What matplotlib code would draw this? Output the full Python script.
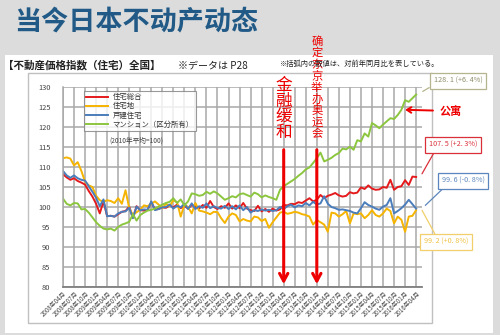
import matplotlib
matplotlib.use("Agg")
import matplotlib.pyplot as plt
import matplotlib.patches as patches
import numpy as np

plt.rcParams['font.family'] = ['Noto Sans CJK JP', 'DejaVu Sans']

# monthly index values, 2008年04月 .. 2016年04月 (one row per April-March year)
total = [
    108.2, 107.4, 106.8, 107.2, 106.5, 106.1, 105.6, 104.0, 102.6, 100.8, 98.4, 101.4,
    97.7, 97.8, 97.6, 98.2, 98.8, 99.0, 100.1, 97.3, 100.2, 99.2, 99.1, 99.3,
    101.2, 99.4, 99.5, 99.9, 99.8, 100.4, 99.9, 100.6, 99.7, 100.3, 99.6, 100.5,
    100.1, 99.6, 100.5, 99.8, 101.5, 100.0, 99.5, 100.2, 99.8, 100.9, 99.6, 100.4,
    99.7, 101.0, 99.6, 99.2, 99.0, 100.3, 98.9, 99.5, 98.8, 99.6, 99.1, 99.4,
    100.5, 100.4, 100.8, 100.7, 101.2, 101.0, 101.6, 102.2, 101.4, 101.8, 103.0, 102.2,
    102.8, 103.1, 103.5, 102.9, 102.6, 102.8, 103.7, 103.4, 103.6, 104.9, 104.5, 105.4,
    104.6, 104.3, 104.4, 105.0, 104.8, 106.8, 104.3, 105.0, 105.2, 106.7, 105.5, 107.6,
    107.5,
]
land = [
    112.2, 112.4, 112.1, 110.4, 111.2, 109.0, 106.3, 105.4, 105.0, 102.8, 101.7, 101.3,
    101.7, 101.5, 101.0, 102.2, 100.8, 104.2, 99.7, 98.0, 98.7, 99.3, 100.4, 100.2,
    100.8, 101.4, 100.6, 99.7, 100.8, 100.2, 101.7, 101.2, 97.6, 100.6, 100.0, 98.4,
    101.0, 99.1, 98.9, 98.6, 98.2, 98.8, 98.7, 97.2, 96.0, 97.6, 98.4, 98.0,
    96.4, 97.0, 96.6, 96.4, 97.6, 97.4, 96.5, 97.0, 94.8, 96.2, 97.4, 98.6,
    98.8, 98.3, 98.5, 98.8, 98.6, 98.2, 98.0, 97.6, 95.6, 96.7, 96.2, 95.6,
    93.8, 98.6, 98.4, 97.6, 98.2, 99.0, 95.9, 98.4, 98.2, 98.4, 97.2, 98.0,
    99.2, 98.0, 97.6, 98.4, 99.6, 99.0, 95.9, 97.6, 96.8, 93.8, 97.6, 97.8,
    99.2,
]
house = [
    109.0, 107.9, 107.3, 107.9, 107.2, 106.8, 106.6, 105.2, 103.8, 102.3, 100.2, 101.9,
    97.7, 97.8, 97.6, 98.4, 98.8, 98.9, 99.8, 97.2, 100.1, 99.2, 99.4, 99.3,
    101.4, 99.2, 99.5, 99.9, 100.0, 100.6, 99.6, 100.3, 99.9, 100.8, 99.5, 100.9,
    99.5, 100.2, 99.8, 100.9, 99.7, 100.2, 99.8, 99.6, 100.3, 99.5, 100.2, 99.4,
    100.4, 99.2, 100.0, 98.6, 99.2, 99.0, 99.4, 99.1, 99.3, 99.0, 99.2, 100.0,
    99.5, 100.2, 100.6, 99.9, 100.4, 100.2, 101.0, 100.4, 101.3, 100.6, 100.9, 102.7,
    100.8, 100.0, 99.7, 99.3, 99.4, 99.2, 99.0, 98.6, 98.4, 99.7, 101.2, 100.5,
    100.1, 99.6, 99.3, 100.1, 100.5, 102.2, 98.4, 99.0, 99.7, 100.6, 101.8, 100.7,
    99.6,
]
condo = [
    102.1, 100.8, 100.4, 101.0, 100.9, 99.4, 99.5, 98.6, 97.4, 96.2, 95.3, 94.6,
    94.4, 94.6, 94.1, 95.0, 95.6, 95.9, 96.3, 98.2, 96.6, 98.0, 98.6, 99.1,
    99.3, 99.6, 100.1, 100.6, 101.0, 101.3, 102.2, 101.0, 101.9, 100.4, 101.4, 103.4,
    103.2, 102.8, 103.0, 103.8, 103.3, 103.9, 103.4, 102.6, 101.8, 102.2, 102.7, 102.4,
    103.2, 103.4, 103.0, 102.6, 103.6, 103.2, 102.4, 102.9, 102.5, 102.2, 101.8, 104.3,
    105.2, 105.8, 106.4, 107.0, 107.8, 108.5, 109.4, 109.9, 111.0, 112.2, 113.6, 111.4,
    111.8, 112.3, 113.0, 113.5, 114.6, 114.4, 115.1, 114.3, 116.7, 116.4, 118.4, 117.6,
    121.0, 120.4, 119.7, 120.6, 121.4, 122.2, 122.0, 123.0, 124.3, 126.7, 126.3, 127.2,
    128.1,
]

series_names = ['住宅総合', '住宅地', '戸建住宅', 'マンション（区分所有）']
series_data = [total, land, house, condo]
series_colors = ['#e41a1c', '#f5b400', '#4a7dbb', '#8cc63f']
callout_texts = ['107. 5 (+2. 3%)', '99. 2 (+0. 8%)', '99. 6 (-0. 8%)', '128. 1 (+6. 4%)']
callout_edge = ['#d9303a', '#f2cf6a', '#5b86bd', '#b6b48e']
callout_font = ['#d9303a', '#f0c040', '#5b86bd', '#8f8d6a']

tick_pos = list(range(0, 97, 3))
tick_labels = ['%d年%02d月' % (2008 + (3 + m) // 12, (3 + m) % 12 + 1) for m in tick_pos]
months = np.arange(len(total))

W, H = 500, 335
fig = plt.figure(figsize=(W / 100, H / 100), dpi=100, facecolor='#dcdcdc')

def fx(px):
    return px / W

def fy(py):
    return 1 - py / H

# white slide panel and chart frame (behind the axes)
fig.patches.append(patches.Rectangle((fx(5), fy(333)), fx(488), 278 / H, transform=fig.transFigure,
                                     facecolor='white', edgecolor='none', zorder=-3))
fig.patches.append(patches.Rectangle((fx(28), fy(323)), fx(404), 250 / H, transform=fig.transFigure,
                                     facecolor='none', edgecolor='#c0c0c0', lw=1.0, zorder=-2))

fig.text(fx(14), fy(21), '当今日本不动产动态', fontsize=19.5, fontweight='bold', color='#215a86',
         va='center', ha='left', family=['Noto Sans CJK SC', 'DejaVu Sans'])
fig.text(fx(3), fy(65), '【不動産価格指数（住宅）全国】', fontsize=7.6, fontweight='bold', color='#222222',
         va='center', ha='left')
fig.text(fx(178), fy(65), '※データは P28', fontsize=7.2, color='#222222', va='center', ha='left')
fig.text(fx(280), fy(64), '※括弧内の数値は、対前年同月比を表している。', fontsize=5.2, color='#222222',
         va='center', ha='left')

ax = fig.add_axes([fx(63), fy(287), (422 - 63) / W, 200 / H])
ax.set_facecolor('white')

for name, vals, col in zip(series_names, series_data, series_colors):
    ax.plot(months, vals, color=col, lw=1.4, label=name)

ax.set_xlim(0, 97.6)
ax.set_ylim(80, 130)
ax.set_yticks(np.arange(80, 131, 5))
ax.set_xticks(tick_pos)
ax.set_xticklabels(tick_labels, rotation=45, ha='right', rotation_mode='anchor', fontsize=4.4, color='#444444')
ax.tick_params(axis='y', length=0, pad=9, labelsize=5.4, labelcolor='#444444')
ax.tick_params(axis='x', length=0, pad=2)
ax.grid(True, color='#a8a8a8', lw=1.1)
ax.set_axisbelow(True)
for s in ['top', 'right']:
    ax.spines[s].set_visible(False)
ax.spines['left'].set_color('#a8a8a8')
ax.spines['left'].set_linewidth(1.1)
ax.spines['bottom'].set_color('#7f7f7f')
ax.spines['bottom'].set_linewidth(1.3)

leg = ax.legend(loc='upper left', bbox_to_anchor=(0.047, 1.0), fontsize=5.3, frameon=True, fancybox=False,
                edgecolor='#808080', handlelength=3.0, labelspacing=0.15, borderpad=0.35, handletextpad=0.6)
leg.get_frame().set_linewidth(0.8)
for t in leg.get_texts():
    t.set_color('#333333')

ax.text(20, 116.6, '(2010年平均=100)', fontsize=4.8, color='#444444', ha='center', va='center')

# callout boxes at the end of each series
callout_xy = [(453, 145, 0.15, 0.0), (446, 242, 0.3, 1.0), (463, 181, 0.12, 0.0), (458, 81, 0.0, 0.0)]
callout_dx = [1.6, 1.6, 2.5, 1.8]
for vals, txt, ec, fc, (cx, cy, rx, ry), dx in zip(series_data, callout_texts, callout_edge, callout_font,
                                                    callout_xy, callout_dx):
    ax.annotate(txt, xy=(months[-1] + dx, vals[-1] + (0.8 if ry == 0 else 0)), xycoords='data',
                xytext=(cx, H - cy), textcoords='figure pixels', ha='center', va='center',
                fontsize=5.2, color=fc, annotation_clip=False,
                bbox=dict(boxstyle='square,pad=0.55', fc='white', ec=ec, lw=0.9),
                arrowprops=dict(arrowstyle='-', color=ec, lw=0.9, shrinkA=0, shrinkB=0, relpos=(rx, ry)))

red = '#ee0000'
# policy markers
event_months = [60, 69]
event_texts = ['金\n融\n缓\n和', '确\n定\n东\n京\n举\n办\n奥\n运\n会']
event_sizes = [12, 8.2]
event_spacing = [0.92, 1.1]
event_centers = [124.5, 129.9]
for m, txt, fs, ls, yc in zip(event_months, event_texts, event_sizes, event_spacing, event_centers):
    ax.annotate('', xy=(m, 80.7), xytext=(m, 114.3), annotation_clip=False,
                arrowprops=dict(arrowstyle='->,head_length=0.55,head_width=0.3', color=red, lw=2.2,
                                shrinkA=0, shrinkB=0))
    ax.text(m, yc, txt, fontsize=fs, color=red, ha='center', va='center', linespacing=ls,
            clip_on=False, family=['Noto Sans CJK SC', 'DejaVu Sans'])

ax.annotate('公寓', xy=(93, 124.3), xycoords='data', xytext=(451, H - 111), textcoords='figure pixels',
            fontsize=8, fontweight='bold', color=red, ha='center', va='center', annotation_clip=False,
            family=['Noto Sans CJK SC', 'DejaVu Sans'],
            arrowprops=dict(arrowstyle='->,head_length=0.4,head_width=0.25', color=red, lw=1.4,
                            shrinkA=3, shrinkB=0))

fig.savefig('out.png', dpi=100, facecolor=fig.get_facecolor())
